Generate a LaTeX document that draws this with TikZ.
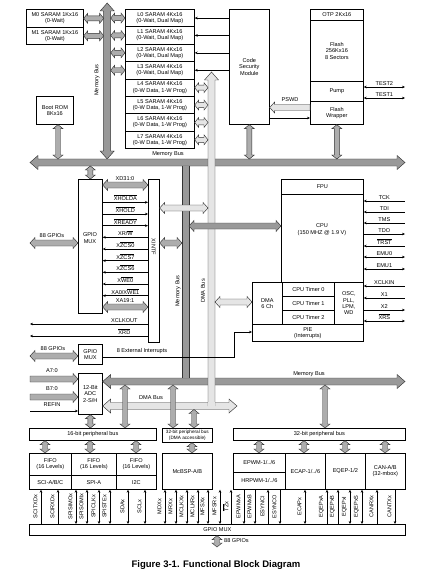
\documentclass[tikz,border=0pt]{standalone}
\usepackage{fontspec}
\setmainfont{Liberation Sans}
\usetikzlibrary{arrows.meta,positioning,calc}

\newcommand\fs{\fontsize{5.6}{6.3}\selectfont}
\newcommand\fss{\fontsize{4.7}{5.4}\selectfont}
\newcommand\ovl[1]{$\overline{\mbox{#1}}$}
\newcommand\bsw{2.5}
\newcommand\bhw{5}
\newcommand\bhl{4}

\tikzset{
  busw/.store in=\bsw, bush/.store in=\bhw, busl/.store in=\bhl,
  box/.style={draw, line width=0.7pt, align=center, inner sep=0pt, font=\fs, anchor=north west},
  lbl/.style={font=\fs, inner sep=1pt, align=center},
  memfill/.style={fill=black!40, draw=black!80, line width=0.45pt},
  dmafill/.style={fill=black!10, draw=black!80, line width=0.45pt},
  arrfill/.style={fill=black!32, draw=black!80, line width=0.45pt},
  bigbus/.style={busw=3.5, bush=7, busl=8},
  midbus/.style={busw=3, bush=5.5, busl=5},
  sig/.style={line width=0.55pt},
  bus2/.style={to path={let \p1=(\tikztostart), \p2=(\tikztotarget),
      \n1={atan2(\y2-\y1,\x2-\x1)}, \n2={veclen(\x2-\x1,\y2-\y1)-\bhl} in
      -- ($(\p1)+(\n1:\bhl pt)+(\n1+90:\bhw pt)$)
      -- ($(\p1)+(\n1:\bhl pt)+(\n1+90:\bsw pt)$)
      -- ($(\p1)+(\n1:\n2)+(\n1+90:\bsw pt)$)
      -- ($(\p1)+(\n1:\n2)+(\n1+90:\bhw pt)$)
      -- (\p2)
      -- ($(\p1)+(\n1:\n2)+(\n1-90:\bhw pt)$)
      -- ($(\p1)+(\n1:\n2)+(\n1-90:\bsw pt)$)
      -- ($(\p1)+(\n1:\bhl pt)+(\n1-90:\bsw pt)$)
      -- ($(\p1)+(\n1:\bhl pt)+(\n1-90:\bhw pt)$)
      -- cycle}},
  bus1/.style={to path={let \p1=(\tikztostart), \p2=(\tikztotarget),
      \n1={atan2(\y2-\y1,\x2-\x1)}, \n2={veclen(\x2-\x1,\y2-\y1)-\bhl} in
      -- ($(\p1)+(\n1+90:\bsw pt)$)
      -- ($(\p1)+(\n1:\n2)+(\n1+90:\bsw pt)$)
      -- ($(\p1)+(\n1:\n2)+(\n1+90:\bhw pt)$)
      -- (\p2)
      -- ($(\p1)+(\n1:\n2)+(\n1-90:\bhw pt)$)
      -- ($(\p1)+(\n1:\n2)+(\n1-90:\bsw pt)$)
      -- ($(\p1)+(\n1-90:\bsw pt)$)
      -- cycle}},
}

\begin{document}
\begin{tikzpicture}[x=1pt, y=-1pt, >={Stealth[length=3pt,width=2.6pt]}]
  \useasboundingbox (0,0) rectangle (424,572);

  % RAM blocks
  \node[box, minimum width=57pt, minimum height=18pt] (m0) at (26,9) {M0 SARAM 1Kx16\\(0-Wait)};
  \node[box, minimum width=57pt, minimum height=17pt] (m1) at (26,27) {M1 SARAM 1Kx16\\(0-Wait)};
  \foreach \i in {0,...,3}
    \node[box, minimum width=69pt, minimum height=17.4pt] (l\i) at (125,9+17.4*\i) {L\i\ SARAM 4Kx16\\(0-Wait, Dual Map)};
  \foreach \i in {4,...,7}
    \node[box, minimum width=69pt, minimum height=17.4pt] (l\i) at (125,9+17.4*\i) {L\i\ SARAM 4Kx16\\(0-W Data, 1-W Prog)};
  \node[box, minimum width=37pt, minimum height=28pt] (boot) at (36,96) {Boot ROM\\8Kx16};

  % CSM and flash
  \node[box, minimum width=40pt, minimum height=115pt] (csm) at (229,9) {Code\\Security\\Module};
  \node[box, minimum width=53pt, minimum height=11pt] (otp) at (310,9) {OTP 2Kx16};
  \node[box, minimum width=53pt, minimum height=61pt] (flash) at (310,20) {Flash\\256Kx16\\8 Sectors};
  \node[box, minimum width=53pt, minimum height=20pt] (pump) at (310,81) {Pump};
  \node[box, minimum width=53pt, minimum height=23pt] (fw) at (310,101) {Flash\\Wrapper};

  % GPIO MUX and XINTF
  \node[box, minimum width=24pt, minimum height=134pt] (gmux) at (78,179) {};
  \node[lbl] (gmuxt) at (90,238) {GPIO\\MUX};
  \node[box, minimum width=11pt, minimum height=163pt] (xintf) at (148,179) {};
  \node[lbl, rotate=-90] (xintft) at (153.5,247) {XINTF};

  % CPU side
  \node[box, minimum width=82pt, minimum height=15pt] (fpu) at (281,179) {FPU};
  \node[box, minimum width=82pt, minimum height=88pt] (cpu) at (281,194) {};
  \node[lbl] (cput) at (322,229.5) {CPU\\(150 MHZ @ 1.9 V)};
  \node[box, minimum width=30pt, minimum height=42pt] (dma) at (252,282) {DMA\\6 Ch};
  \node[box, minimum width=52pt, minimum height=14pt] (t0) at (282,282) {CPU Timer 0};
  \node[box, minimum width=52pt, minimum height=14pt] (t1) at (282,296) {CPU Timer 1};
  \node[box, minimum width=52pt, minimum height=14pt] (t2) at (282,310) {CPU Timer 2};
  \node[box, minimum width=29pt, minimum height=42pt] (osc) at (334,282) {OSC,\\PLL,\\LPM,\\WD};
  \node[box, minimum width=111pt, minimum height=17pt] (pie) at (252,324) {PIE\\(Interrupts)};

  % GPIO MUX and ADC
  \node[box, minimum width=24pt, minimum height=20pt] (gmux2) at (78,344) {GPIO\\MUX};
  \node[box, minimum width=24pt, minimum height=41pt] (adc) at (78,373) {12-Bit\\ADC\\2-S/H};

  % peripheral buses
  \node[box, minimum width=127pt, minimum height=12pt] (bus16) at (29,428) {16-bit peripheral bus};
  \node[box, minimum width=50pt, minimum height=14pt, font=\fss] (bus32d) at (162,428) {32-bit peripheral bus\\(DMA accessible)};
  \node[box, minimum width=172pt, minimum height=12pt] (bus32) at (233,428) {32-bit peripheral bus};

  % peripherals
  \node[box, minimum width=42pt, minimum height=22pt] (fifo1) at (29,453) {FIFO\\(16 Levels)};
  \node[box, minimum width=42pt, minimum height=14pt] (sci) at (29,475) {SCI-A/B/C};
  \node[box, minimum width=45pt, minimum height=22pt] (fifo2) at (71,453) {FIFO\\(16 Levels)};
  \node[box, minimum width=45pt, minimum height=14pt] (spi) at (71,475) {SPI-A};
  \node[box, minimum width=40pt, minimum height=22pt] (fifo3) at (116,453) {FIFO\\(16 Levels)};
  \node[box, minimum width=40pt, minimum height=14pt] (i2c) at (116,475) {I2C};
  \node[box, minimum width=50pt, minimum height=36pt] (mcbsp) at (162,453) {McBSP-A/B};
  \node[box, minimum width=52pt, minimum height=19pt] (epwm) at (233,453) {EPWM-1/../6};
  \node[box, minimum width=52pt, minimum height=17pt] (hrpwm) at (233,472) {HRPWM-1/../6};
  \node[box, minimum width=40pt, minimum height=36pt] (ecap) at (285,453) {ECAP-1/../6};
  \node[box, minimum width=40pt, minimum height=36pt] (eqep) at (325,453) {EQEP-1/2};
  \node[box, minimum width=40pt, minimum height=36pt] (can) at (365,453) {CAN-A/B\\(32-mbox)};
  \node[box, minimum width=376pt, minimum height=11pt] (gbot) at (29,524) {GPIO MUX};

  % bus end points
  \coordinate (lbusT) at (107.2,3);
  \coordinate (lbusB) at (107.2,159);
  \coordinate (topbusW) at (30,162.5);
  \coordinate (topbusE) at (405,162.5);
  \coordinate (lowbusW) at (adc.east |- 0,381.5);
  \coordinate (lowbusE) at (405,381.5);
  \coordinate (dmaT) at (211.5,72);
  \coordinate (dmaB) at (211.5,406);
  \coordinate (dmabusW) at (adc.east |- 0,406);
  \coordinate (dmabusE) at (237,406);

  % memory bus
  \draw[memfill, bus2, bigbus] (lbusB) to (lbusT);
  \draw[memfill, bus2, bigbus] (topbusW) to (topbusE);
  \draw[memfill, bus2, bigbus] (lowbusW) to (lowbusE);
  \fill[black!40] (182.25,165.7) rectangle (188.75,378.3);
  \draw[black!80, line width=0.45pt] (182,166) -- (182,378) (189,166) -- (189,378);

  % DMA bus
  \draw[dmafill, bus2, bigbus] (dmabusW) to (dmabusE);
  \draw[dmafill, bus1, bigbus] (dmaB) to (dmaT);
  \fill[black!10] (207.7,402.3) rectangle (215.3,408);

  % bus labels
  \node[lbl, rotate=90] (mbl1) at (97,80) {Memory Bus};
  \node[lbl] (mbl2) at (168,154) {Memory Bus};
  \node[lbl, rotate=90] (mbl3) at (178,291) {Memory Bus};
  \node[lbl, rotate=90] (dbl1) at (203,291) {DMA Bus};
  \node[lbl] (mbl4) at (309,374) {Memory Bus};
  \node[lbl] (dbl2) at (151,398) {DMA Bus};

  % RAM connections
  \foreach \ram in {m0,m1}
    \draw[arrfill, bus2] (\ram.east) to (\ram.east -| 103.7,0);
  \foreach \i in {0,...,3}{
    \draw[arrfill, bus2] (l\i.west -| 110.7,0) to (l\i.west);
    \draw[sig, ->] (csm.west |- l\i.east) -- (l\i.east);
  }
  \foreach \i in {4,...,7}
    \draw[dmafill, bus2] (l\i.east) to (l\i.east -| 208,0);
  \draw[arrfill, bus2] (58,0 |- boot.south) to (58,159);
  \draw[arrfill, bus2] (csm.south) to (csm.south |- 0,159);
  \draw[arrfill, bus2] (fw.south) to (fw.south |- 0,159);

  % flash signals
  \draw[dmafill, bus1, midbus] (fw.west |- 0,107.5) to (csm.east |- 0,107.5);
  \node[lbl] (pswd) at (290,100) {PSWD};
  \draw[sig, ->] (csm.east |- 0,118) -- (fw.west |- 0,118);
  \draw[sig, <->] (pump.east |- 0,87) -- (405,87) node[lbl, midway, above] {TEST2};
  \draw[sig, <->] (pump.east |- 0,98) -- (405,98) node[lbl, midway, above] {TEST1};

  % GPIO MUX / XINTF
  \draw[arrfill, bus2] (gmux.north |- 0,166) to (gmux.north);
  \draw[arrfill, bus2, midbus] (gmux.east |- 0,185) to (xintf.west |- 0,185);
  \node[lbl] (xd) at (125,178.5) {XD31:0};
  \foreach \yy/\lab/\st in {202.3/\ovl{XHOLDA}/->, 214/\ovl{XHOLD}/->, 225.7/\ovl{XREADY}/->,
      237.3/{XR/\ovl{W}}/<-, 249/X\ovl{ZCS0}/<-, 260.7/X\ovl{ZCS7}/<-, 272.3/X\ovl{ZCS6}/<-,
      284/X\ovl{WE0}/<-, 295.7/{XA0/X\ovl{WE1}}/<-}
    \draw[sig, \st] (gmux.east |- 0,\yy) -- (xintf.west |- 0,\yy) node[lbl, midway, above] {\lab};
  \draw[arrfill, bus2, midbus] (gmux.east |- 0,307) to (xintf.west |- 0,307);
  \node[lbl] (xa) at (125,301) {XA19:1};
  \draw[sig, ->] (xintf.west |- 0,324) -- (30,324) node[lbl, pos=0.2, above] {XCLKOUT};
  \draw[sig, ->] (xintf.west |- 0,336) -- (30,336) node[lbl, pos=0.2, above] {\ovl{XRD}};
  \draw[arrfill, bus2, midbus] (30,243) to (gmux.west |- 0,243);
  \node[lbl] (gp1) at (52,236) {88 GPIOs};
  \draw[dmafill, bus2, midbus] (xintf.east |- 0,208) to (208,208);
  \draw[arrfill, bus2, midbus] (xintf.east |- 0,243) to (182,243);

  % CPU connections
  \draw[memfill, bus2, midbus] (189,226) to (cpu.west |- 0,226);
  \draw[dmafill, bus2, midbus] (215,302) to (dma.west |- 0,302);
  \foreach \yy/\lab/\st in {201/TCK/<-, 212/TDI/<-, 223/TMS/<-, 234/TDO/->, 246/\ovl{TRST}/<-,
      257/EMU0/<->, 269/EMU1/<->, 286/XCLKIN/<-, 298/X1/<-, 310/X2/->, 321/\ovl{XRS}/<->}
    \draw[sig, \st] (fpu.east |- 0,\yy) -- (405,\yy) node[lbl, midway, above] {\lab};

  % interrupts, ADC inputs
  \draw[arrfill, bus2, midbus] (30,356) to (gmux2.west |- 0,356);
  \node[lbl] (gp2) at (53,349) {88 GPIOs};
  \draw[sig, ->] (gmux2.east |- 0,357) -- (234,357) -- (234,332) -- (pie.west |- 0,332);
  \node[lbl] (extint) at (142,351) {8 External Interrupts};
  \draw[arrfill, bus1, midbus] (30,379) to (adc.west |- 0,379);
  \node[lbl] (a70) at (52,371) {A7:0};
  \draw[arrfill, bus1, midbus] (30,397) to (adc.west |- 0,397);
  \node[lbl] (b70) at (52,389) {B7:0};
  \draw[sig, ->] (30,411) -- (adc.west |- 0,411);
  \node[lbl] (refin) at (52,405) {REFIN};

  % peripheral bus connections
  \draw[arrfill, bus2] (adc.south) to (adc.south |- bus16.north);
  \draw[arrfill, bus2] (125,385) to (125,0 |- bus16.north);
  \draw[arrfill, bus2] (173,385) to (173,0 |- bus32d.north);
  \draw[arrfill, bus2] (194,409.5) to (194,0 |- bus32d.north);
  \draw[arrfill, bus2] (325,385) to (325,0 |- bus32.north);
  \foreach \xx in {45,90,136}
    \draw[arrfill, bus2] (\xx,0 |- bus16.south) to (\xx,0 |- fifo1.north);
  \draw[arrfill, bus2] (192,0 |- bus32d.south) to (192,0 |- mcbsp.north);
  \foreach \xx in {259,304,345,385}
    \draw[arrfill, bus2] (\xx,0 |- bus32.south) to (\xx,0 |- epwm.north);

  % pin signals
  \foreach \xx/\lab/\st in {41/SCITXDx/<-, 58/SCIRXDx/<-, 76/SPISIMOx/<->, 87/SPISOMIx/<->,
      99/SPICLKx/<->, 110/SPISTEx/<->, 128/SDAx/<->, 145/SCLx/<->, 165/MDXx/<->, 176/MRXx/<->,
      187/MCLKXx/<->, 198/MCLKRx/<->, 208/MFSXx/<->, 220/MFSRx/<->, 231/\ovl{TZ}x/<-,
      244/EPWMxA/->, 255/EPWMxB/->, 268/ESYNCI/<-, 280/ESYNCO/->, 305/ECAPx/<->,
      327/EQEPxA/<-, 338/EQEPxB/<-, 350/EQEPxI/<->, 362/EQEPxS/<->, 377/CANRXx/<-, 395/CANTXx/->}{
    \draw[sig, \st] (\xx,0 |- sci.south) -- (\xx,0 |- gbot.north);
    \node[lbl, rotate=90] at (\xx-5.5,506.5) {\lab};
  }
  \draw[arrfill, bus2] (217,0 |- gbot.south) to (217,547);
  \node[lbl, anchor=west] (gp3) at (223,541) {88 GPIOs};

  % caption
  \node[font=\fontsize{9.5}{11}\selectfont\bfseries] (cap) at (216,565) {Figure 3-1. Functional Block Diagram};
\end{tikzpicture}
\end{document}
